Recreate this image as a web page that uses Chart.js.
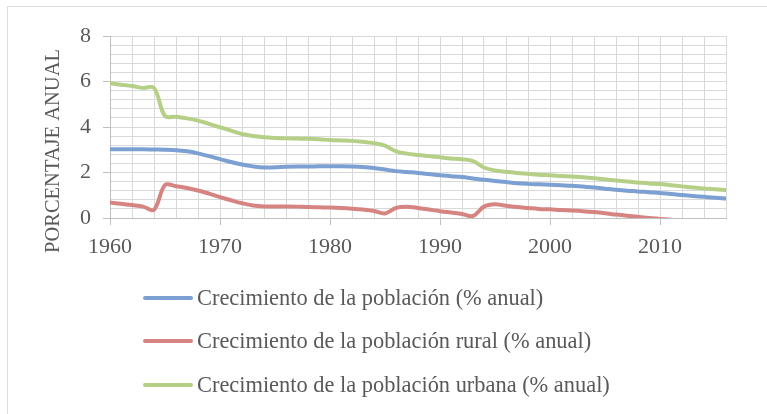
<!DOCTYPE html>
<html>
<head>
<meta charset="utf-8">
<script src="https://cdn.jsdelivr.net/npm/chart.js@4/dist/chart.umd.min.js"></script>
<style>
  html, body { margin: 0; padding: 0; background: #fff; }
  #wrap { position: relative; width: 767px; height: 414px; overflow: hidden; background: #fff; }
  #frame { position: absolute; left: 7px; top: 6px; width: 800px; height: 450px; border: 1px solid #dcdcdc; box-sizing: border-box; }
  #chart { position: absolute; left: 0; top: 0; }
  #legend { position: absolute; left: 143px; top: 276px; font-family: "Liberation Serif", "Times New Roman", serif; font-size: 22.4px; color: #595959; }
  .leg-row { display: flex; align-items: center; height: 43.5px; white-space: nowrap; }
  .leg-line { width: 50px; height: 4px; border-radius: 2px; margin-right: 4px; }
</style>
</head>
<body>
<div id="wrap">
  <div id="frame"></div>
  <canvas id="chart" width="767" height="414"></canvas>
  <div id="legend"></div>
</div>
<script>
// ─── Data ───
const years = [
  1960, 1961, 1962, 1963, 1964, 1965, 1966, 1967, 1968, 1969,
  1970, 1971, 1972, 1973, 1974, 1975, 1976, 1977, 1978, 1979,
  1980, 1981, 1982, 1983, 1984, 1985, 1986, 1987, 1988, 1989,
  1990, 1991, 1992, 1993, 1994, 1995, 1996, 1997, 1998, 1999,
  2000, 2001, 2002, 2003, 2004, 2005, 2006, 2007, 2008, 2009,
  2010, 2011, 2012, 2013, 2014, 2015, 2016
];
const poblacionTotal = [
  3.02, 3.02, 3.02, 3.02, 3.01, 3.00, 2.98, 2.93, 2.84, 2.72,
  2.59, 2.46, 2.35, 2.27, 2.22, 2.23, 2.25, 2.26, 2.26, 2.27,
  2.27, 2.27, 2.26, 2.24, 2.20, 2.13, 2.06, 2.02, 1.98, 1.93,
  1.88, 1.84, 1.80, 1.74, 1.68, 1.63, 1.58, 1.53, 1.50, 1.48,
  1.46, 1.44, 1.42, 1.38, 1.34, 1.29, 1.24, 1.20, 1.17, 1.13,
  1.10, 1.05, 1.01, 0.97, 0.93, 0.89, 0.86
];
const poblacionRural = [
  0.68, 0.63, 0.57, 0.50, 0.36, 1.45, 1.40, 1.32, 1.21, 1.07,
  0.92, 0.78, 0.65, 0.55, 0.51, 0.51, 0.51, 0.50, 0.48, 0.47,
  0.46, 0.44, 0.41, 0.37, 0.31, 0.20, 0.44, 0.49, 0.44, 0.37,
  0.30, 0.24, 0.18, 0.09, 0.50, 0.60, 0.54, 0.48, 0.44, 0.40,
  0.38, 0.35, 0.33, 0.30, 0.26, 0.21, 0.15, 0.10, 0.05, 0.00,
  -0.04, -0.08, -0.12, -0.15, -0.18, -0.21, -0.24
];
const poblacionUrbana = [
  5.92, 5.86, 5.80, 5.72, 5.72, 4.48, 4.45, 4.38, 4.28, 4.14,
  3.99, 3.84, 3.69, 3.60, 3.55, 3.52, 3.50, 3.49, 3.48, 3.46,
  3.43, 3.41, 3.39, 3.35, 3.29, 3.18, 2.93, 2.83, 2.77, 2.72,
  2.67, 2.62, 2.58, 2.50, 2.22, 2.09, 2.03, 1.98, 1.94, 1.90,
  1.88, 1.85, 1.82, 1.79, 1.75, 1.70, 1.65, 1.60, 1.56, 1.52,
  1.49, 1.44, 1.39, 1.34, 1.30, 1.26, 1.23
];
const seriesNames = [
  'Crecimiento de la población (% anual)',
  'Crecimiento de la población rural (% anual)',
  'Crecimiento de la población urbana (% anual)'
];
const seriesColors = ['rgb(124,160,210)', 'rgb(214,132,130)', 'rgb(181,207,135)'];
const yTitle = 'PORCENTAJE ANUAL';

const SERIF = '"Liberation Serif", "Times New Roman", serif';
const TEXT = '#595959';
const GRID = '#d9d9d9';
const AXIS = '#bfbfbf';

const toPoints = vals => vals.map((v, i) => ({ x: years[i], y: v }));
const isMajorY = v => Math.abs(v / 2 - Math.round(v / 2)) < 1e-6;

// ─── Y axis title drawn where Excel puts it ───
const axisTitle = {
  id: 'axisTitle',
  afterDraw(chart) {
    const c = chart.ctx;
    c.save();
    c.translate(54, 151);
    c.rotate(-Math.PI / 2);
    c.font = '20.5px ' + SERIF;
    c.fillStyle = TEXT;
    c.textAlign = 'center';
    c.textBaseline = 'middle';
    c.fillText(yTitle, 0, 0);
    c.restore();
  }
};

const chart = new Chart(document.getElementById('chart'), {
  type: 'line',
  data: {
    datasets: [poblacionTotal, poblacionRural, poblacionUrbana].map((vals, i) => ({
      label: seriesNames[i],
      data: toPoints(vals),
      borderColor: seriesColors[i],
      backgroundColor: seriesColors[i],
      borderWidth: 4,
      pointRadius: 0,
      tension: 0.35,
      borderCapStyle: 'round'
    }))
  },
  options: {
    responsive: false,
    animation: false,
    layout: { padding: { left: 0, top: 36, right: 41, bottom: 0 } },
    plugins: { legend: { display: false }, tooltip: { enabled: false } },
    scales: {
      x: {
        type: 'linear',
        min: 1960,
        max: 2016,
        afterFit: s => { s.height = 196; },
        border: { color: AXIS, width: 1 },
        grid: {
          color: GRID,
          lineWidth: 1,
          tickLength: 7,
          tickColor: ctx => (ctx.tick && ctx.tick.value % 10 === 0 ? AXIS : 'rgba(0,0,0,0)')
        },
        ticks: {
          stepSize: 2,
          autoSkip: false,
          maxRotation: 0,
          padding: 9,
          color: TEXT,
          font: { family: SERIF, size: 22 },
          callback: v => (v % 10 === 0 ? String(v) : '')
        }
      },
      y: {
        min: 0,
        max: 8,
        afterFit: s => { s.width = 110; },
        border: { color: AXIS, width: 1 },
        grid: {
          color: GRID,
          lineWidth: 1,
          tickLength: 7,
          tickColor: ctx => (ctx.tick && isMajorY(ctx.tick.value) ? AXIS : 'rgba(0,0,0,0)')
        },
        ticks: {
          stepSize: 0.4,
          autoSkip: false,
          padding: 12,
          color: TEXT,
          font: { family: SERIF, size: 22 },
          callback: v => (isMajorY(v) ? String(Math.round(v)) : '')
        }
      }
    }
  },
  plugins: [axisTitle]
});

// ─── Legend (stacked, left aligned like the reference) ───
const legend = document.getElementById('legend');
chart.data.datasets.forEach(ds => {
  const row = document.createElement('div');
  row.className = 'leg-row';
  row.innerHTML = `<span class="leg-line" style="background:${ds.borderColor}"></span><span>${ds.label}</span>`;
  legend.appendChild(row);
});
</script>
</body>
</html>
